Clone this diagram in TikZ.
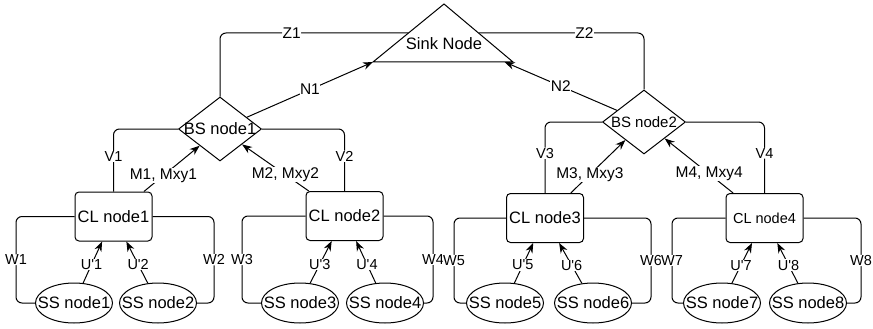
\documentclass[tikz,border=0pt]{standalone}
\usepackage{fontspec}
\setmainfont{Liberation Sans}
\usetikzlibrary{shapes.geometric,arrows.meta,calc}

\begin{document}
\begin{tikzpicture}[x=1pt,y=-1pt,line width=1pt,
  bs/.style={diamond,draw,minimum width=83pt,minimum height=64pt,inner sep=0pt},
  cl/.style={draw,rounded corners=4pt,minimum width=77pt,minimum height=49pt,inner sep=1pt,font=\fontsize{16.5}{19}\selectfont},
  ss/.style={ellipse,draw,minimum width=77pt,minimum height=40pt,inner sep=0pt},
  every label/.style={font=\fontsize{16.5}{19}\selectfont,inner sep=0pt},
  lbl/.style={fill=white,inner sep=0.5pt,font=\fontsize{14.5}{17}\selectfont},
  mlbl/.style={lbl,font=\fontsize{15.5}{18}\selectfont},
  link/.style={rounded corners=6pt},
  arr/.style={-{Stealth[length=10pt,width=7.5pt]}}]
\useasboundingbox (0,0) rectangle (873,329);

%sink node on top
\coordinate (sinkT) at (444,4);
\coordinate (sinkL) at (373,62);
\coordinate (sinkR) at (513,62);
\draw (sinkL) -- (sinkT) -- (sinkR) -- cycle;
\node[font=\fontsize{16.5}{19}\selectfont] (sink) at (444,44) {Sink Node};
\coordinate (z1end) at ($(sinkL)!0.5!(sinkT)$);
\coordinate (z2end) at ($(sinkR)!0.5!(sinkT)$);
\coordinate (n2end) at ($(sinkL)!0.94!(sinkR)$);

%base stations
\node[bs, label={center:BS node1}] (bs1) at (220,129) {};
\node[bs, label={[font=\fontsize{15}{18}\selectfont]center:BS node2}] (bs2) at (644,122) {};

%cluster heads
\node[cl] (cl1) at (113.5,216.5) {CL node1};
\node[cl] (cl2) at (344.5,216) {CL node2};
\node[cl] (cl3) at (545,218) {CL node3};
\node[cl, font=\fontsize{14.5}{17}\selectfont] (cl4) at (764.5,218) {CL node4};

%subscriber stations
\node[ss, label={center:SS node1}] (ss1) at (74,303) {};
\node[ss, label={center:SS node2}] (ss2) at (158,303) {};
\node[ss, label={center:SS node3}] (ss3) at (300,303) {};
\node[ss, label={center:SS node4}] (ss4) at (385,303) {};
\node[ss, label={center:SS node5}] (ss5) at (505,303) {};
\node[ss, label={center:SS node6}] (ss6) at (593,303) {};
\node[ss, label={center:SS node7}] (ss7) at (722,303) {};
\node[ss, label={center:SS node8}] (ss8) at (808,303) {};

%links to the sink
\draw[link] (z1end) -| (bs1.north) node[mlbl,pos=0.31] {Z1};
\draw[link] (z2end) -| (bs2.north) node[mlbl,pos=0.32] {Z2};
\draw[arr] (bs1) -- (sinkL) node[mlbl,midway] {N1};
\draw[arr] (bs2) -- (n2end) node[mlbl,midway] {N2};

%links to the base stations
\draw[link] (bs1.west) -| (cl1.north) node[lbl,pos=0.72] {V1};
\draw[link] (bs1.east) -| (cl2.north) node[lbl,pos=0.72] {V2};
\draw[link] (bs2.west) -| (cl3.north) node[lbl,pos=0.72] {V3};
\draw[link] (bs2.east) -| (cl4.north) node[lbl,pos=0.72] {V4};
\draw[arr] (cl1) -- (bs1) node[mlbl,pos=0.35] {M1, Mxy1};
\draw[arr] (cl2) -- (bs1) node[mlbl,pos=0.35] {M2, Mxy2};
\draw[arr] (cl3) -- (bs2) node[mlbl,pos=0.35] {M3, Mxy3};
\draw[arr] (cl4) -- (bs2) node[mlbl,pos=0.35] {M4, Mxy4};

%links to the cluster heads
\draw[link] (cl1.west) -| ([xshift=-19pt]ss1.west) node[lbl,pos=0.75] {W1} -- (ss1.west);
\draw[link] (cl1.east) -| ([xshift=17pt]ss2.east) node[lbl,pos=0.75] {W2} -- (ss2.east);
\draw[link] (cl2.west) -| ([xshift=-19pt]ss3.west) node[lbl,pos=0.75] {W3} -- (ss3.west);
\draw[link] (cl2.east) -| ([xshift=9pt]ss4.east) node[lbl,pos=0.75] {W4} -- (ss4.east);
\draw[link] (cl3.west) -| ([xshift=-12pt]ss5.west) node[lbl,pos=0.75] {W5} -- (ss5.west);
\draw[link] (cl3.east) -| ([xshift=19pt]ss6.east) node[lbl,pos=0.75] {W6} -- (ss6.east);
\draw[link] (cl4.west) -| ([xshift=-11pt]ss7.west) node[lbl,pos=0.75] {W7} -- (ss7.west);
\draw[link] (cl4.east) -| ([xshift=14pt]ss8.east) node[lbl,pos=0.75] {W8} -- (ss8.east);
\draw[arr] (ss1) -- (cl1) node[lbl,pos=0.45] {U\textquotesingle1};
\draw[arr] (ss2) -- (cl1) node[lbl,pos=0.45] {U\textquotesingle2};
\draw[arr] (ss3) -- (cl2) node[lbl,pos=0.45] {U\textquotesingle3};
\draw[arr] (ss4) -- (cl2) node[lbl,pos=0.45] {U\textquotesingle4};
\draw[arr] (ss5) -- (cl3) node[lbl,pos=0.45] {U\textquotesingle5};
\draw[arr] (ss6) -- (cl3) node[lbl,pos=0.45] {U\textquotesingle6};
\draw[arr] (ss7) -- (cl4) node[lbl,pos=0.45] {U\textquotesingle7};
\draw[arr] (ss8) -- (cl4) node[lbl,pos=0.45] {U\textquotesingle8};

\end{tikzpicture}
\end{document}
